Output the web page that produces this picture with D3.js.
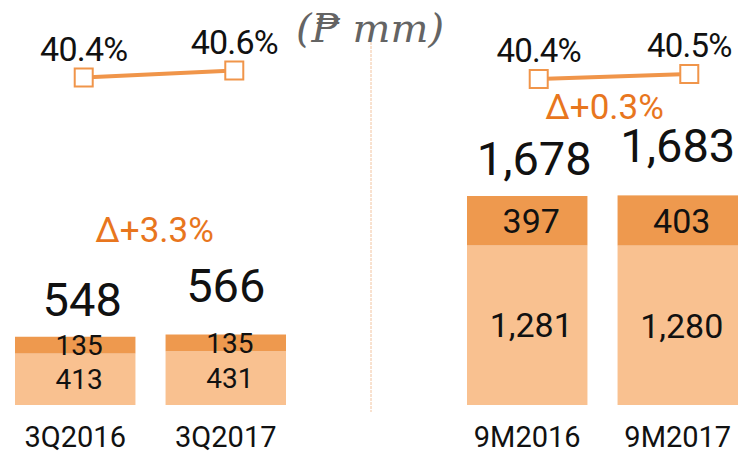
<!DOCTYPE html>
<html>
<head>
<meta charset="utf-8">
<script src="https://cdn.jsdelivr.net/npm/d3@7"></script>
<style>
  html, body { margin: 0; padding: 0; background: #fff; }
  text { font-family: Roboto, "Open Sans", sans-serif; }
</style>
</head>
<body>
<div id="myGraph"></div>
<script>
// data
var categories = ["3Q2016", "3Q2017", "9M2016", "9M2017"];
var baseValues = [413, 431, 1281, 1280];
var topValues  = [135, 135, 397, 403];
var totals     = [548, 566, 1678, 1683];
var margins    = [40.4, 40.6, 40.4, 40.5];
var deltaValues = [3.3, 0.3];
var unitLabel = "(\u20B1 mm)";

var width = 742, height = 455;
var fmt = d3.format(",");

// two panels, each with its own band scale and margin-line scale
var panels = [
  { cats: categories.slice(0, 2), range: [15, 286], lineShift: 8.5,
    pct: d3.scaleLinear().domain([40.4, 40.6]).range([77.5, 70.5]),
    segFont: 28, pctFont: 34, deltaY: 242, deltaDx: 4 },
  { cats: categories.slice(2, 4), range: [467, 738], lineShift: 11.5,
    pct: d3.scaleLinear().domain([40.4, 40.5]).range([79, 74]),
    segFont: 34, pctFont: 33, deltaY: 119, deltaDx: 2 }
];
panels.forEach(function(p){
  p.x = d3.scaleBand().domain(p.cats).range(p.range).paddingInner(0.2).paddingOuter(0);
});

var y = d3.scaleLinear().domain([0, 1700]).range([405, 405 - 1700 * 0.12455]);

var svg = d3.select("#myGraph").append("svg")
  .attr("width", width)
  .attr("height", height);

// divider
svg.append("line")
  .attr("x1", 371).attr("x2", 371)
  .attr("y1", 38).attr("y2", 412)
  .attr("stroke", "#F2C4A0")
  .attr("stroke-width", 1)
  .attr("stroke-dasharray", "3,1");

// unit title
svg.append("text")
  .attr("x", 370).attr("y", 42)
  .attr("text-anchor", "middle")
  .style("font-family", "'DejaVu Serif', 'Liberation Serif', serif")
  .style("font-style", "italic")
  .style("font-size", "40px")
  .style("fill", "#646464")
  .text(unitLabel);

panels.forEach(function(p, pi){
  var rows = p.cats.map(function(c){
    var i = categories.indexOf(c);
    return { cat: c, i: i, base: baseValues[i], top: topValues[i], total: totals[i], pct: margins[i] };
  });
  var g = svg.append("g");
  var bw = p.x.bandwidth();

  // bars
  g.selectAll(".base").data(rows).enter().append("rect")
    .attr("x", function(d){ return p.x(d.cat); })
    .attr("y", function(d){ return y(d.base); })
    .attr("width", bw)
    .attr("height", function(d){ return y(0) - y(d.base); })
    .attr("fill", "#F9C190");
  g.selectAll(".top").data(rows).enter().append("rect")
    .attr("x", function(d){ return p.x(d.cat); })
    .attr("y", function(d){ return y(d.base + d.top); })
    .attr("width", bw)
    .attr("height", function(d){ return y(d.base) - y(d.base + d.top); })
    .attr("fill", "#EE994E");

  // segment labels
  g.selectAll(".lb").data(rows).enter().append("text")
    .attr("x", function(d){ return p.x(d.cat) + bw / 2 + 4; })
    .attr("y", function(d){ return (y(0) + y(d.base)) / 2; })
    .attr("dy", "0.36em")
    .attr("text-anchor", "middle")
    .style("font-size", p.segFont + "px")
    .style("fill", "#111")
    .text(function(d){ return fmt(d.base); });
  g.selectAll(".lt").data(rows).enter().append("text")
    .attr("x", function(d){ return p.x(d.cat) + bw / 2 + 4; })
    .attr("y", function(d){ return (y(d.base) + y(d.base + d.top)) / 2; })
    .attr("dy", "0.36em")
    .attr("text-anchor", "middle")
    .style("font-size", p.segFont + "px")
    .style("fill", "#111")
    .text(function(d){ return fmt(d.top); });

  // totals
  g.selectAll(".tot").data(rows).enter().append("text")
    .attr("x", function(d, k){ return p.x(d.cat) + bw / 2 + (k ? 0 : 7); })
    .attr("y", function(d, k){ return y(d.total) - (k ? 33 : 21); })
    .attr("text-anchor", "middle")
    .style("font-size", "47px")
    .style("fill", "#111")
    .text(function(d){ return fmt(d.total); });

  // categories
  g.selectAll(".cat").data(rows).enter().append("text")
    .attr("x", function(d){ return p.x(d.cat) + bw / 2; })
    .attr("y", 447)
    .attr("text-anchor", "middle")
    .style("font-size", "29px")
    .style("fill", "#111")
    .text(function(d){ return d.cat; });

  // margin line
  var lx = function(d){ return p.x(d.cat) + bw / 2 + p.lineShift; };
  var line = d3.line().x(lx).y(function(d){ return p.pct(d.pct); });
  g.append("path")
    .datum(rows)
    .attr("d", line)
    .attr("fill", "none")
    .attr("stroke", "#F0954A")
    .attr("stroke-width", 4);
  var ms = 18;
  g.selectAll(".mk").data(rows).enter().append("rect")
    .attr("x", function(d){ return lx(d) - ms / 2; })
    .attr("y", function(d){ return p.pct(d.pct) - ms / 2; })
    .attr("width", ms).attr("height", ms)
    .attr("fill", "#fff")
    .attr("stroke", "#F0954A")
    .attr("stroke-width", 2);
  g.selectAll(".pl").data(rows).enter().append("text")
    .attr("x", lx)
    .attr("y", function(d){ return p.pct(d.pct) - 17; })
    .attr("text-anchor", "middle")
    .style("font-size", p.pctFont + "px")
    .style("letter-spacing", "-0.8px")
    .style("fill", "#111")
    .text(function(d){ return d.pct.toFixed(1) + "%"; });

  // delta
  var mid = (p.x(p.cats[0]) + p.x(p.cats[1]) + bw) / 2;
  g.append("text")
    .attr("x", mid + p.deltaDx)
    .attr("y", p.deltaY)
    .attr("text-anchor", "middle")
    .style("font-size", "35px")
    .style("fill", "#E8761E")
    .text("\u0394+" + deltaValues[pi].toFixed(1) + "%");
});
</script>
</body>
</html>
